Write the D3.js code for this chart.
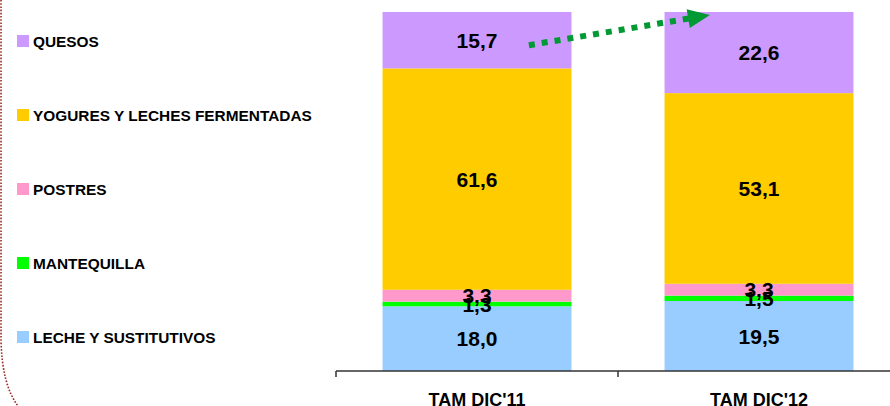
<!DOCTYPE html>
<html>
<head>
<meta charset="utf-8">
<script src="https://cdn.jsdelivr.net/npm/d3@7"></script>
<style>
  html, body { margin: 0; padding: 0; background: #fff; }
  svg { display: block; font-family: Arial, "Liberation Sans", sans-serif; }
</style>
</head>
<body>
<svg id="chart" width="890" height="406"></svg>
<script>
// Market share by category (%)
const categories = ["TAM DIC'11", "TAM DIC'12"];
const seriesNames = ["LECHE Y SUSTITUTIVOS", "MANTEQUILLA", "POSTRES", "YOGURES Y LECHES FERMENTADAS", "QUESOS"];
const leche = [18.0, 19.5];
const mantequilla = [1.3, 1.5];
const postres = [3.3, 3.3];
const yogures = [61.6, 53.1];
const quesos = [15.7, 22.6];
const seriesColors = ["#99CCFF", "#00FF00", "#FF99CC", "#FFCC00", "#CC99FF"];

const seriesValues = [leche, mantequilla, postres, yogures, quesos];
const rows = categories.map((c, i) => {
  const r = { cat: c };
  seriesNames.forEach((s, k) => { r[s] = seriesValues[k][i]; });
  return r;
});

const svg = d3.select("#chart");
const fmt = v => d3.format(".1f")(v).replace(".", ",");

// Left dotted frame edge
svg.append("path")
  .attr("d", "M1,0 L1,340 Q2,385 18,406")
  .attr("fill", "none")
  .attr("stroke", "#9b2a24")
  .attr("stroke-width", 1.6)
  .attr("stroke-dasharray", "1.6,1.6");

const x = d3.scaleBand().domain(categories).range([336, 900]).padding(0);
const barW = x.bandwidth() * 0.67;
const y = d3.scaleLinear().domain([0, 1]).range([371, 12]);
const color = d3.scaleOrdinal().domain(seriesNames).range(seriesColors);

const stack = d3.stack().keys(seriesNames).offset(d3.stackOffsetExpand);
const stacked = stack(rows);

const barX = d => x(d.data.cat) + (x.bandwidth() - barW) / 2;

const layers = svg.append("g").selectAll("g")
  .data(stacked).join("g")
  .attr("fill", d => color(d.key));

layers.selectAll("rect")
  .data(d => d).join("rect")
  .attr("x", barX)
  .attr("width", barW)
  .attr("y", d => y(d[1]))
  .attr("height", d => y(d[0]) - y(d[1]));

// Value labels, centred in each segment
const labels = svg.append("g");
stacked.forEach(layer => {
  layer.forEach(d => {
    labels.append("text")
      .attr("x", x(d.data.cat) + x.bandwidth() / 2)
      .attr("y", (y(d[0]) + y(d[1])) / 2)
      .attr("dy", "0.36em")
      .attr("text-anchor", "middle")
      .attr("font-size", 21)
      .attr("font-weight", "bold")
      .attr("fill", "#000")
      .text(fmt(d.data[layer.key]));
  });
});

// Category axis
const axis = svg.append("g").attr("transform", "translate(0,371)")
  .call(d3.axisBottom(x).tickSize(0).tickPadding(0));
axis.select(".domain").remove();
axis.append("line").attr("x1", 336).attr("x2", 900).attr("stroke", "#333").attr("stroke-width", 1.5);
[336, x(categories[1]), 900].forEach(t => {
  axis.append("line").attr("x1", t).attr("x2", t).attr("y1", 0).attr("y2", 6)
    .attr("stroke", "#333").attr("stroke-width", 1.5);
});
axis.selectAll(".tick text")
  .attr("y", 35)
  .attr("dy", 0)
  .attr("font-size", 18)
  .attr("font-weight", "bold")
  .attr("font-family", "Arial, 'Liberation Sans', sans-serif")
  .attr("fill", "#000");

// Legend
const legendOrder = seriesNames.slice().reverse();
const legend = svg.append("g");
legendOrder.forEach((name, i) => {
  const cy = 41 + i * 74;
  legend.append("rect").attr("x", 17).attr("y", cy - 6).attr("width", 12).attr("height", 12)
    .attr("fill", color(name));
  legend.append("text").attr("x", 33).attr("y", cy).attr("dy", "0.36em")
    .attr("font-size", 15.4).attr("font-weight", "bold").attr("fill", "#000")
    .text(name);
});

// Growth arrow from the first QUESOS segment toward the second bar's top
const qLayer = stacked[stacked.length - 1];
const x0 = x(categories[0]) + x.bandwidth() * 0.684;
const y0 = (y(qLayer[0][0]) + y(qLayer[0][1])) / 2 + 5;
const x1 = x(categories[1]) + x.bandwidth() * 0.326;
const y1 = y(qLayer[1][1]) + 3;
const ang = Math.atan2(y1 - y0, x1 - x0);
const headLen = 22, headHalf = 9.5;
const bx = x1 - headLen * Math.cos(ang), by = y1 - headLen * Math.sin(ang);
const arrowColor = "#009933";
svg.append("line")
  .attr("x1", x0).attr("y1", y0).attr("x2", bx + 2 * Math.cos(ang)).attr("y2", by + 2 * Math.sin(ang))
  .attr("stroke", arrowColor).attr("stroke-width", 6).attr("stroke-dasharray", "6,7");
const px = -Math.sin(ang), py = Math.cos(ang);
svg.append("path")
  .attr("d", `M${x1},${y1} L${bx + px * headHalf},${by + py * headHalf} L${bx - px * headHalf},${by - py * headHalf} Z`)
  .attr("fill", arrowColor);
</script>
</body>
</html>
